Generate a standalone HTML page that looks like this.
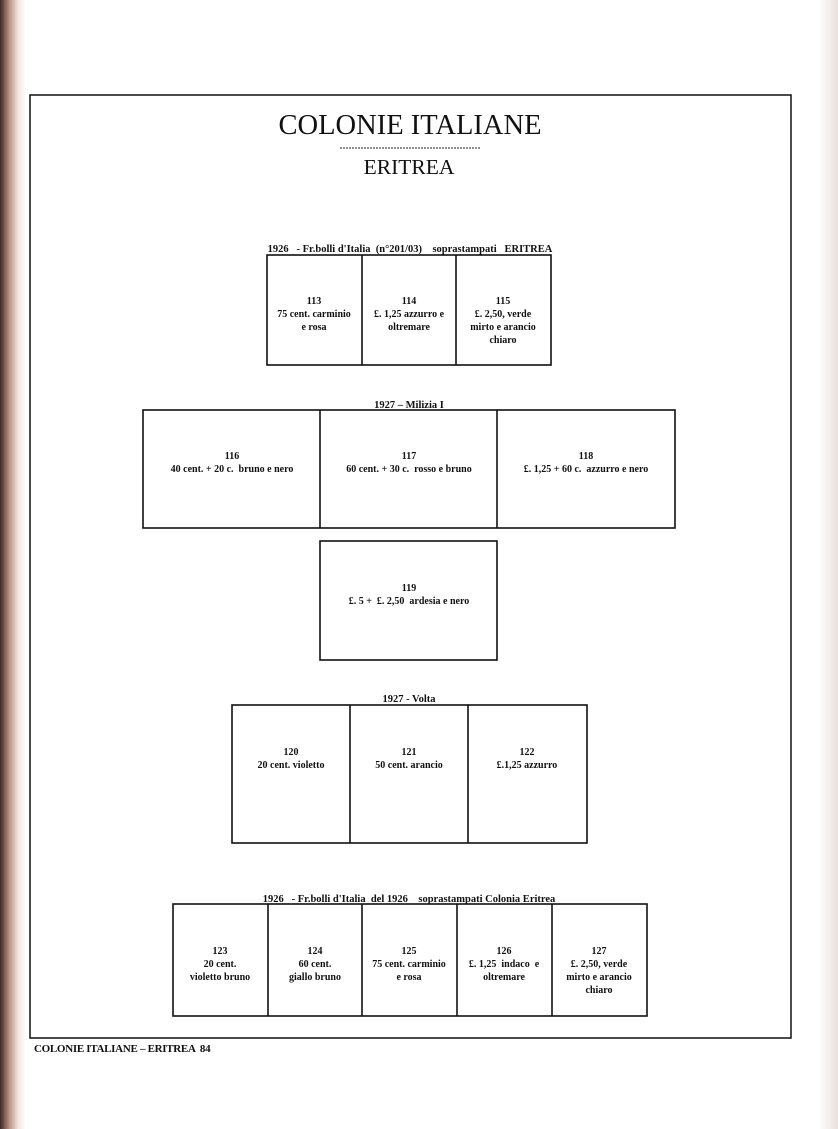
<!DOCTYPE html>
<html><head><meta charset="utf-8"><style>
html,body{margin:0;padding:0;background:#fff;}
body{width:838px;height:1129px;position:relative;overflow:hidden;font-family:"Liberation Serif",serif;}
text{white-space:pre;}
</style></head><body>
<svg width="838" height="1129" viewBox="0 0 838 1129" xmlns="http://www.w3.org/2000/svg" style="position:absolute;left:0;top:0">
<defs>
<linearGradient id="lg" x1="0" x2="1" y1="0" y2="0">
<stop offset="0" stop-color="#3a2a25"/><stop offset="0.35" stop-color="#b89080"/><stop offset="0.7" stop-color="#f3e6e0"/><stop offset="1" stop-color="#fff"/>
</linearGradient>
<linearGradient id="rg" x1="0" x2="1"><stop offset="0" stop-color="#fff"/><stop offset="1" stop-color="#e8e0dc"/></linearGradient>
</defs>
<rect x="0" y="0" width="838" height="1129" fill="#fff"/>
<rect x="0" y="0" width="26" height="1129" fill="url(#lg)"/>
<rect x="818" y="0" width="20" height="1129" fill="url(#rg)"/>
<rect x="30" y="95" width="761" height="943" fill="none" stroke="#111" stroke-width="1.5"/>
<g font-family="Liberation Serif, serif" fill="#111" text-anchor="middle">
<text x="410" y="134" font-size="28" textLength="263" lengthAdjust="spacingAndGlyphs">COLONIE ITALIANE</text>
<line x1="340" y1="148" x2="480" y2="148" stroke="#222" stroke-width="1" stroke-dasharray="2,1"/>
<text x="409" y="174" font-size="21.5">ERITREA</text>
</g>
<g fill="none" stroke="#111" stroke-width="1.6">
<rect x="267" y="255" width="284" height="110"/><line x1="362" y1="255" x2="362" y2="365"/><line x1="456" y1="255" x2="456" y2="365"/>
<rect x="143" y="410" width="532" height="118"/><line x1="320" y1="410" x2="320" y2="528"/><line x1="497" y1="410" x2="497" y2="528"/>
<rect x="320" y="541" width="177" height="119"/>
<rect x="232" y="705" width="355" height="138"/><line x1="350" y1="705" x2="350" y2="843"/><line x1="468" y1="705" x2="468" y2="843"/>
<rect x="173" y="904" width="474" height="112"/><line x1="268" y1="904" x2="268" y2="1016"/><line x1="362" y1="904" x2="362" y2="1016"/><line x1="457" y1="904" x2="457" y2="1016"/><line x1="552" y1="904" x2="552" y2="1016"/>
</g>
<g font-family="Liberation Serif, serif" fill="#111" font-size="10" text-anchor="middle" font-weight="bold">
<text x="410" y="252" font-size="10.5">1926   - Fr.bolli d'Italia  (n°201/03)    soprastampati   ERITREA</text>
<text x="314" y="304">113</text><text x="314" y="317">75 cent. carminio</text><text x="314" y="330">e rosa</text>
<text x="409" y="304">114</text><text x="409" y="317">£. 1,25 azzurro e</text><text x="409" y="330">oltremare</text>
<text x="503" y="304">115</text><text x="503" y="317">£. 2,50, verde</text><text x="503" y="330">mirto e arancio</text><text x="503" y="343">chiaro</text>
<text x="409" y="408" font-size="10.5">1927 – Milizia I</text>
<text x="232" y="459">116</text><text x="232" y="472">40 cent. + 20 c.  bruno e nero</text>
<text x="409" y="459">117</text><text x="409" y="472">60 cent. + 30 c.  rosso e bruno</text>
<text x="586" y="459">118</text><text x="586" y="472">£. 1,25 + 60 c.  azzurro e nero</text>
<text x="409" y="591">119</text><text x="409" y="604">£. 5 +  £. 2,50  ardesia e nero</text>
<text x="409" y="702" font-size="10.5">1927 - Volta</text>
<text x="291" y="755">120</text><text x="291" y="768">20 cent. violetto</text>
<text x="409" y="755">121</text><text x="409" y="768">50 cent. arancio</text>
<text x="527" y="755">122</text><text x="527" y="768">£.1,25 azzurro</text>
<text x="409" y="902" font-size="10.5">1926   - Fr.bolli d'Italia  del 1926    soprastampati Colonia Eritrea</text>
<text x="220" y="954">123</text><text x="220" y="967">20 cent.</text><text x="220" y="980">violetto bruno</text>
<text x="315" y="954">124</text><text x="315" y="967">60 cent.</text><text x="315" y="980">giallo bruno</text>
<text x="409" y="954">125</text><text x="409" y="967">75 cent. carminio</text><text x="409" y="980">e rosa</text>
<text x="504" y="954">126</text><text x="504" y="967">£. 1,25  indaco  e</text><text x="504" y="980">oltremare</text>
<text x="599" y="954">127</text><text x="599" y="967">£. 2,50, verde</text><text x="599" y="980">mirto e arancio</text><text x="599" y="993">chiaro</text>
<text x="34" y="1052" text-anchor="start" font-size="11" letter-spacing="-0.3">COLONIE ITALIANE – ERITREA  84</text>
</g>
</svg>
</body></html>
